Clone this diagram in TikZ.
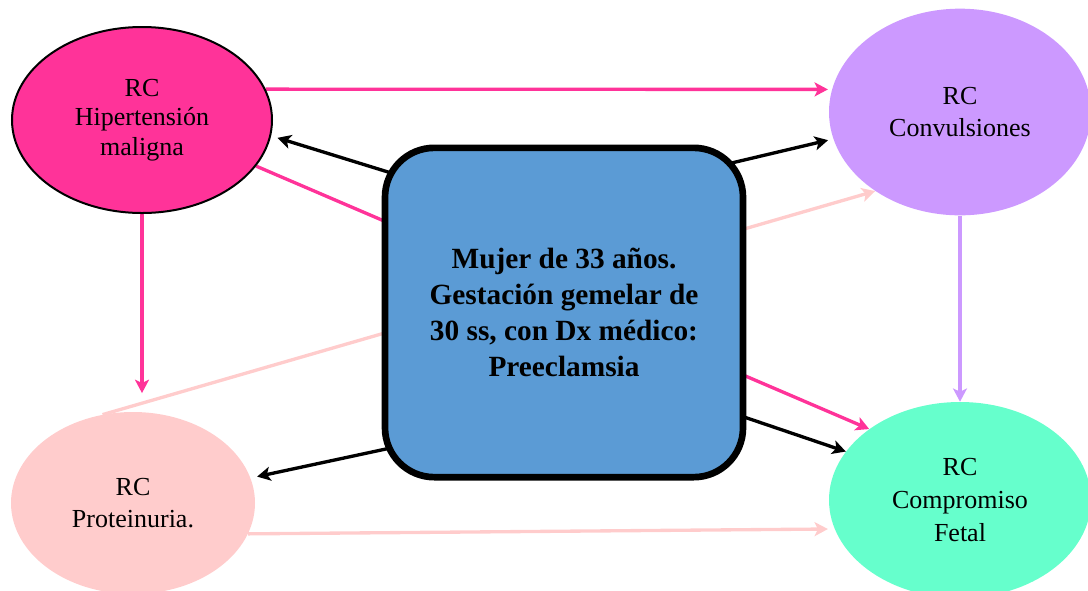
\documentclass[tikz,border=0pt]{standalone}
\usepackage{fontspec}
\setmainfont{Liberation Serif}
\usetikzlibrary{shapes.geometric,arrows.meta,backgrounds}
\definecolor{mag}{HTML}{FF3399}
\definecolor{lav}{HTML}{CC99FF}
\definecolor{pinkl}{HTML}{FFCCCC}
\definecolor{aqua}{HTML}{66FFCC}
\definecolor{boxblue}{HTML}{5B9BD5}
\tikzset{
  oval/.style={ellipse, inner sep=0pt, align=center, font=\fontsize{19.5}{24.5}\selectfont},
  centerbox/.style={rectangle, rounded corners=37pt, draw=black, line width=5pt, fill=boxblue,
    inner sep=0pt, minimum width=268.5pt, minimum height=247pt, align=center,
    font=\fontsize{22}{27}\selectfont\bfseries},
  conn/.style={line width=2.5pt, -{Stealth[length=10pt,width=10.5pt,inset=2.5pt]}},
}
\begin{document}
\begin{tikzpicture}[x=0.75pt,y=-0.75pt]
\useasboundingbox (0,0) rectangle (1088,590);
\node[oval, draw=black, line width=1.5pt, fill=mag, minimum width=195pt, minimum height=139.5pt,
  font=\fontsize{19.5}{22}\selectfont] (hip) at (142,120) {RC\\Hipertensión\\maligna};
\node[oval, fill=lav, minimum width=196.5pt, minimum height=155pt] (conv) at (960,112) {RC\\Convulsiones};
\node[oval, fill=pinkl, minimum width=183pt, minimum height=136.5pt] (prot) at (133,503) {RC\\Proteinuria.};
\node[oval, fill=aqua, minimum width=196.5pt, minimum height=147pt] (fetal) at (960,500) {RC\\Compromiso\\Fetal};
\node[centerbox] (box) at (564,312.5) {Mujer de 33 años.\\Gestación gemelar de\\30 ss, con Dx médico:\\Preeclamsia};
\begin{pgfonlayer}{background}
  % pass-through lines
  \draw[conn, mag] (hip.-22.7) -- (fetal.142.1);
  \draw[conn, pinkl] (prot.109) -- (conv.223.4);
  % magenta
  \draw[conn, mag, shorten >=3pt] (hip.14.4) -- (conv.170.1);
  \draw[conn, mag, shorten >=14pt] (hip.south) -- (hip.south |- prot.north);
  % lavender
  \draw[conn, lav] (conv.south) -- (fetal.north);
  % light pink
  \draw[conn, pinkl, shorten >=5pt] (prot.-15.1) -- (fetal.193.6);
  % black from box
  \draw[conn, black, shorten <=-15pt, shorten >=5pt] (box.142.7) -- (hip.-7.1);
  \draw[conn, black, shorten <=-15pt, shorten >=4pt] (box.40) -- (conv.192.8);
  \draw[conn, black, shorten <=-15pt, shorten >=5pt] (box.217.3) -- (prot.12.7);
  \draw[conn, black, shorten <=-15pt] (box.-30.1) -- (fetal.157.7);
\end{pgfonlayer}
\end{tikzpicture}
\end{document}
